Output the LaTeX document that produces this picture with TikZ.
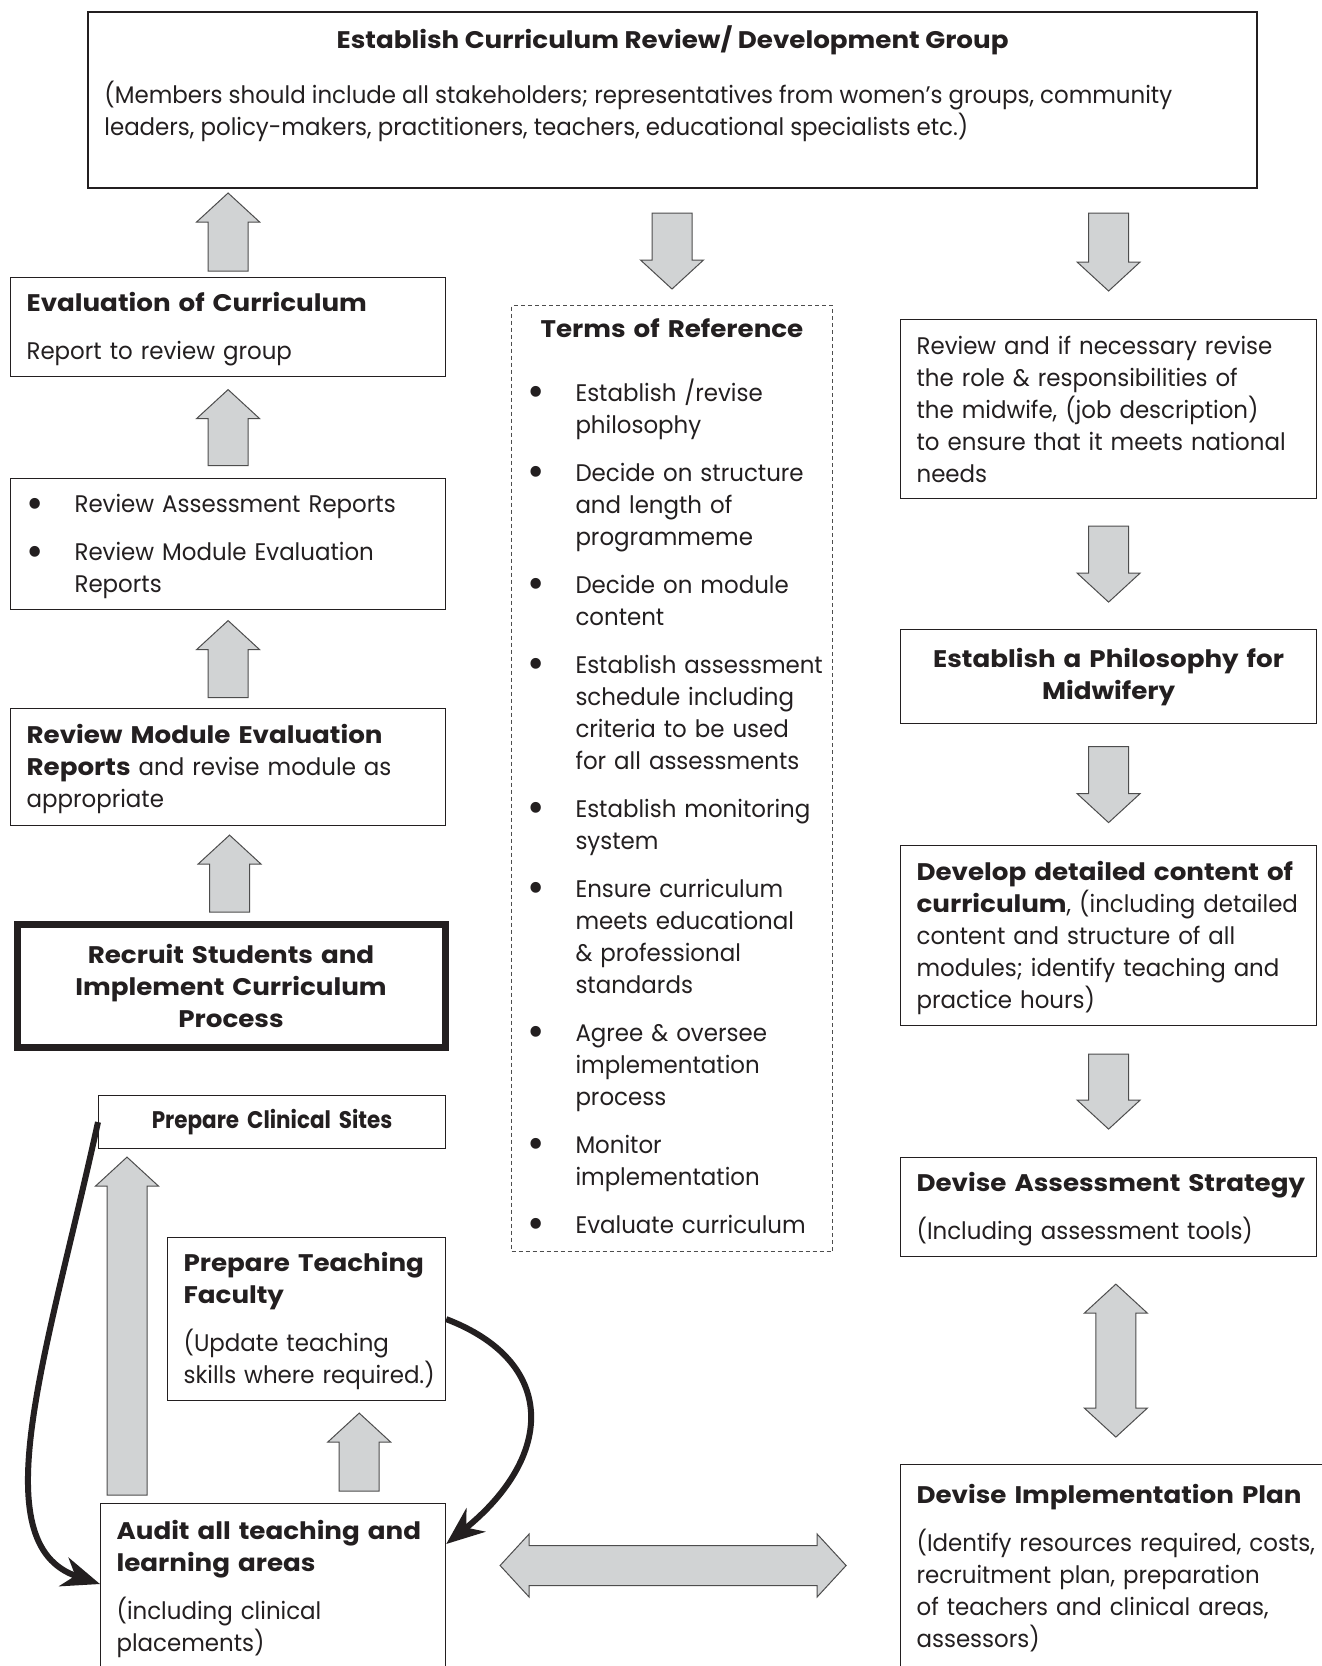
\documentclass[tikz,border=0pt]{standalone}
\usepackage{fontspec}
\setmainfont{Poppins}[UprightFeatures={FakeStretch=0.955}, BoldFeatures={FakeStretch=1.09}]
\newfontfamily\schmal[FakeStretch=0.895]{Poppins}
\usetikzlibrary{arrows.meta,calc,positioning}

\definecolor{pfeilgrau}{HTML}{D1D3D4}
\definecolor{randgrau}{HTML}{4D4D4D}
\definecolor{schrift}{HTML}{231F20}

\newcommand{\punkt}{\makebox[24pt][l]{\raisebox{-2.6pt}{\fontsize{22}{16}\selectfont\textbullet}}}
\newcommand{\einzug}{\hspace*{24pt}}
\hyphenpenalty=10000
\exhyphenpenalty=10000

\begin{document}
\begin{tikzpicture}[
    x=0.5pt, y=-0.5pt,
    >=Stealth,
    kasten/.style = {draw=schrift, line width=0.6pt, fill=white, anchor=north west,
                     align=left, inner xsep=8pt, inner ysep=0pt, text=schrift,
                     font=\fontsize{12}{16}\selectfont},
    links/.style  = {kasten, text width=201.5pt, minimum width=217.5pt},
    rechts/.style = {kasten, text width=192pt, minimum width=208pt},
    tiefer/.style = {execute at begin node={\rule{0pt}{12pt}}},
    pfeil/.style  = {draw=randgrau, line width=0.5pt, fill=pfeilgrau},
    kurve/.style  = {-{Stealth[length=19pt, width=15pt, inset=6pt]}, line width=3pt, draw=schrift},
    pics/hochpfeil/.style = {code={
      \draw[pfeil] (0,-#1/2) -- (31.5,29-#1/2) -- (20,29-#1/2) -- (20,#1/2)
        -- (-20,#1/2) -- (-20,29-#1/2) -- (-31.5,29-#1/2) -- cycle;}},
    pics/doppelpfeil/.style = {code={
      \draw[pfeil] (0,-#1/2) -- (31.5,29-#1/2) -- (20,29-#1/2) -- (20,#1/2-29)
        -- (31.5,#1/2-29) -- (0,#1/2) -- (-31.5,#1/2-29) -- (-20,#1/2-29)
        -- (-20,29-#1/2) -- (-31.5,29-#1/2) -- cycle;}},
  ]
  \useasboundingbox (0,0) rectangle (1322,1666);
  \clip (0,0) rectangle (1322,1666);
  \fill[white] (0,0) rectangle (1322,1666);

  % Gruppe oben
  \node[kasten, line width=1.1pt, minimum width=584.5pt, minimum height=88pt] (top) at (87,11) {};
  \node[anchor=base, text=schrift, font=\fontsize{12}{16}\selectfont\bfseries] (toptitel)
    at ($(top.north)+(0,37)$) {Establish Curriculum Review/ Development Group};
  \node[anchor=north west, align=left, inner sep=0pt, text=schrift, font=\fontsize{12}{16}\selectfont] (topinfo)
    at ($(top.north west)+(17,70)$)
    {(Members should include all stakeholders; representatives from women’s groups, community\\
     leaders, policy-makers, practitioners, teachers, educational specialists etc.)};

  % linke Spalte
  \node[links, tiefer, minimum height=49.5pt] (eval) at (10,277)
    {\textbf{Evaluation of Curriculum}\\[8pt]Report to review group};
  \node[links, tiefer, minimum height=65.5pt] (revassess) at (10,478)
    {\punkt Review Assessment Reports\\[8pt]
     \punkt Review Module Evaluation\\\einzug Reports};
  \node[links, tiefer, minimum height=58.5pt] (revmod) at (10,708)
    {\textbf{Review Module Evaluation}\\\textbf{Reports} and revise module as\\appropriate};
  \node[links, line width=3.5pt, minimum width=214pt, text width=198pt, minimum height=61.5pt,
        align=center, font=\fontsize{12}{16}\selectfont\bfseries] (recruit) at (13.5,921)
    {Recruit Students and\\Implement Curriculum\\Process};
  \node[kasten, minimum width=173.5pt, text width=157.5pt, minimum height=26.5pt, align=center,
        font=\schmal\fontsize{12}{16}\selectfont\bfseries] (clinical) at (98,1095)
    {Prepare Clinical Sites};
  \node[kasten, tiefer, minimum width=139pt, text width=123pt, minimum height=81.5pt] (teach) at (167,1237)
    {\textbf{Prepare Teaching}\\\textbf{Faculty}\\[8pt](Update teaching\\\mbox{skills where required.)}};
  \node[kasten, minimum width=172.5pt, text width=156.5pt, minimum height=85pt] (audit) at (100,1503)
    {\textbf{Audit all teaching and}\\\textbf{learning areas}\\[8pt](including clinical\\placements)};

  % Terms of Reference
  \node[kasten, draw=randgrau, line width=0.5pt, dash pattern=on 2pt off 1.5pt,
        minimum width=160.5pt, text width=144.5pt, minimum height=473pt] (terms) at (511,305)
    {\makebox[\hsize]{\bfseries Terms of Reference}\\[16pt]
     \punkt Establish /revise\\\einzug philosophy\\[8pt]
     \punkt Decide on structure\\\einzug and length of\\\einzug programmeme\\[8pt]
     \punkt Decide on module\\\einzug content\\[8pt]
     \punkt \mbox{Establish assessment}\\\einzug schedule including\\\einzug criteria to be used\\\einzug for all assessments\\[8pt]
     \punkt Establish monitoring\\\einzug system\\[8pt]
     \punkt Ensure curriculum\\\einzug meets educational\\\einzug \& professional\\\einzug standards\\[8pt]
     \punkt Agree \& oversee\\\einzug implementation\\\einzug process\\[8pt]
     \punkt Monitor\\\einzug implementation\\[8pt]
     \punkt Evaluate curriculum};

  % rechte Spalte
  \node[rechts, minimum height=89.5pt] (review) at (900,319)
    {Review and if necessary revise\\the role \& responsibilities of\\the midwife, (job description)\\to ensure that it meets national\\needs};
  \node[rechts, minimum height=47pt, align=center, font=\fontsize{12}{16}\selectfont\bfseries] (philo) at (900,629)
    {Establish a Philosophy for\\Midwifery};
  \node[rechts, tiefer, minimum height=90pt] (develop) at (900,845)
    {\textbf{Develop detailed content of}\\\textbf{curriculum}, (including detailed\\content and structure of all\\modules; identify teaching and\\practice hours)};
  \node[rechts, tiefer, minimum height=49.5pt] (assess) at (900,1157)
    {\mbox{\textbf{Devise Assessment Strategy}}\\[8pt](Including assessment tools)};
  \node[kasten, minimum width=222.5pt, text width=206.5pt, minimum height=104pt] (implement) at (900,1464)
    {\textbf{Devise Implementation Plan}\\[8pt](Identify resources required, costs,\\recruitment plan, preparation\\of teachers and clinical areas,\\assessors)};

  % Blockpfeile
  \pic at ($(eval.north)+(0,-45)$) {hochpfeil=78};
  \pic at ($(revassess.north)!.5!(eval.south)$) {hochpfeil=76};
  \pic at ($(revmod.north)!.5!(revassess.south)$) {hochpfeil=77};
  \pic at ($(recruit.north)!.5!(revmod.south)$) {hochpfeil=77};
  \pic at ($(clinical.south west)!.5!(audit.north west)+(28,0)$) {hochpfeil=338};
  \pic at ($(teach.south east)!.5!(audit.north east)+(-87,0)$) {hochpfeil=78};
  \pic[rotate=180] at ($(terms.north)+(0,-54)$) {hochpfeil=76};
  \pic[rotate=180] at ($(review.north)+(0,-67)$) {hochpfeil=78};
  \pic[rotate=180] at ($(review.south)!.5!(philo.north)$) {hochpfeil=76};
  \pic[rotate=180] at ($(philo.south)!.5!(develop.north)$) {hochpfeil=76};
  \pic[rotate=180] at ($(develop.south)!.5!(assess.north)$) {hochpfeil=75};
  \pic at ($(assess.south)!.5!(implement.north)$) {doppelpfeil=153};
  \pic[rotate=90] at ($(audit.north east)!.5!(implement.north west)+(0,82)$) {doppelpfeil=346};

  % Kurvenpfeile
  \draw[kurve] (clinical.west) .. controls +(-50,229) and +(-120,-40) .. ($(audit.north west)+(0,81)$);
  \draw[kurve] (teach.east) .. controls +(110,42) and +(110,-89) .. ($(audit.north east)+(0,41)$);
\end{tikzpicture}
\end{document}
